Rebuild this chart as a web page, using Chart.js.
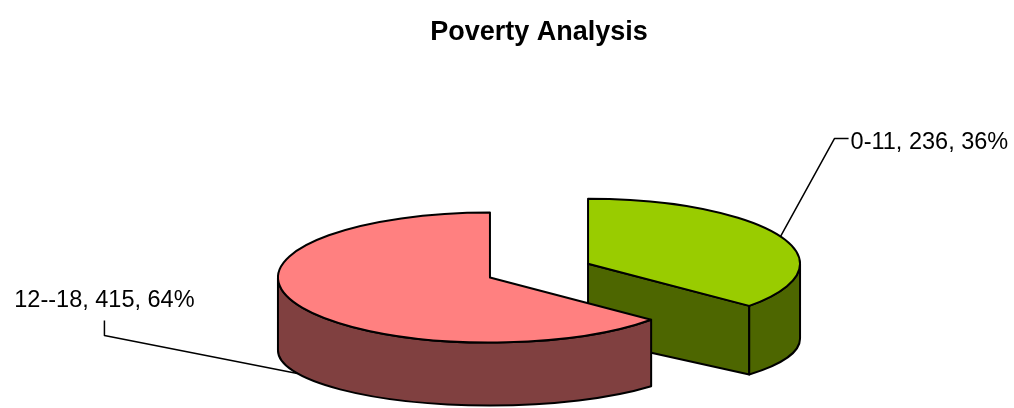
<!DOCTYPE html>
<html>
<head>
<meta charset="utf-8">
<title>Poverty Analysis</title>
<script src="https://cdn.jsdelivr.net/npm/chart.js@4/dist/chart.umd.min.js"></script>
<style>
  html, body { margin: 0; padding: 0; background: #fff; }
  #wrap { width: 1014px; height: 408px; }
</style>
</head>
<body>
<div id="wrap"><canvas id="povertyChart" width="1014" height="408"></canvas></div>
<script>
// Age groups and child counts
const ageGroups = ['0-11', '12--18'];
const childCounts = [236, 415];
const topColors = ['#99CC00', '#FF8080'];
const sideColors = ['#4D6600', '#804040'];

const FONT = '"Liberation Sans", Arial, sans-serif';

// Excel-like 3D look
const TILT_TOP = 65 / 212;     // top ellipse squash
const TILT_BOTTOM = 55 / 212;  // bottom ellipse squash (perspective)
const DEPTH = 74;
const EXPLODE = 54;
const DROP = 37.4;             // pie sits lower than the chart area centre

const total = childCounts.reduce((s, v) => s + v, 0);

function topPt(s, t) { return [s.cx + s.rx * Math.cos(t), s.cy + s.ry * Math.sin(t)]; }
function botPt(s, t) { return [s.cx + s.rx * Math.cos(t), s.cyb + s.ryb * Math.sin(t)]; }

function paint(ctx, fill) {
    ctx.fillStyle = fill;
    ctx.fill();
    ctx.stroke();
}

function drawWall(ctx, s, t) {
    const [x1, y1] = topPt(s, t), [x2, y2] = botPt(s, t);
    ctx.beginPath();
    ctx.moveTo(s.cx, s.cy);
    ctx.lineTo(x1, y1);
    ctx.lineTo(x2, y2);
    ctx.lineTo(s.cx, s.cyb);
    ctx.closePath();
    paint(ctx, sideColors[s.i]);
}

function drawRim(ctx, s, lo, hi) {
    const [x2, y2] = botPt(s, hi);
    ctx.beginPath();
    ctx.ellipse(s.cx, s.cy, s.rx, s.ry, 0, lo, hi, false);
    ctx.lineTo(x2, y2);
    ctx.ellipse(s.cx, s.cyb, s.rx, s.ryb, 0, hi, lo, true);
    ctx.closePath();
    paint(ctx, sideColors[s.i]);
}

function drawTop(ctx, s) {
    ctx.beginPath();
    ctx.moveTo(s.cx, s.cy);
    ctx.ellipse(s.cx, s.cy, s.rx, s.ry, 0, s.a, s.b, false);
    ctx.closePath();
    paint(ctx, topColors[s.i]);
}

function drawLabel(ctx, s) {
    const v = childCounts[s.i];
    const text = ageGroups[s.i] + ', ' + v + ', ' + Math.round(v / total * 100) + '%';
    ctx.lineWidth = 1.5;
    ctx.strokeStyle = '#000';
    ctx.fillStyle = '#000';
    ctx.font = '23.5px ' + FONT;
    ctx.textBaseline = 'alphabetic';
    ctx.beginPath();
    if (Math.cos(s.mid) >= 0) {
        const [ax, ay] = topPt(s, s.mid);
        const ex = ax + 54, ey = ay - 98;
        ctx.moveTo(ax, ay);
        ctx.lineTo(ex, ey);
        ctx.lineTo(ex + 14, ey);
        ctx.stroke();
        ctx.textAlign = 'left';
        ctx.fillText(text, ex + 16, ey + 11);
    } else {
        const [ax, ay] = botPt(s, s.mid);
        const ex = ax - 193, ey = ay - 38;
        ctx.moveTo(ax, ay);
        ctx.lineTo(ex, ey);
        ctx.lineTo(ex, ey - 15);
        ctx.stroke();
        ctx.textAlign = 'center';
        ctx.fillText(text, ex, ey - 28);
    }
}

const pie3d = {
    id: 'pie3d',
    beforeDatasetsDraw(chart) {
        const ctx = chart.ctx;
        const meta = chart.getDatasetMeta(0);
        const slices = meta.data.map((arc, i) => {
            const p = arc.getProps(['x', 'y', 'startAngle', 'endAngle', 'outerRadius']);
            const mid = (p.startAngle + p.endAngle) / 2;
            const rx = p.outerRadius;
            return {
                i, a: p.startAngle, b: p.endAngle, mid, rx,
                ry: rx * TILT_TOP,
                ryb: rx * TILT_BOTTOM,
                cx: p.x + EXPLODE * Math.cos(mid),
                cy: p.y + DROP + EXPLODE * Math.sin(mid) * TILT_TOP,
                cyb: p.y + DROP + DEPTH + EXPLODE * Math.sin(mid) * TILT_BOTTOM
            };
        });
        // back slices first
        const order = slices.slice().sort((p, q) => Math.sin(p.mid) - Math.sin(q.mid));

        ctx.save();
        ctx.lineWidth = 2;
        ctx.lineJoin = 'round';
        ctx.strokeStyle = '#000';
        order.forEach(s => {
            if (Math.cos(s.a) < -1e-6) drawWall(ctx, s, s.a);
            if (Math.cos(s.b) > 1e-6) drawWall(ctx, s, s.b);
            [-2 * Math.PI, 0, 2 * Math.PI].forEach(k => {
                const lo = Math.max(s.a, k), hi = Math.min(s.b, k + Math.PI);
                if (hi > lo) drawRim(ctx, s, lo, hi);
            });
            drawTop(ctx, s);
        });
        slices.forEach(s => drawLabel(ctx, s));
        ctx.restore();
        return false;
    }
};

new Chart(document.getElementById('povertyChart'), {
    type: 'pie',
    data: {
        labels: ageGroups,
        datasets: [{
            data: childCounts,
            backgroundColor: topColors,
            borderColor: '#000'
        }]
    },
    options: {
        responsive: false,
        animation: false,
        radius: 212,
        layout: { padding: { left: 64, right: 0, top: 0, bottom: 0 } },
        plugins: {
            legend: { display: false },
            tooltip: { enabled: false },
            title: {
                display: true,
                text: 'Poverty Analysis',
                color: '#000',
                font: { family: FONT, size: 27, weight: 'bold' },
                padding: { top: 16, bottom: 10 }
            }
        }
    },
    plugins: [pie3d]
});
</script>
</body>
</html>
